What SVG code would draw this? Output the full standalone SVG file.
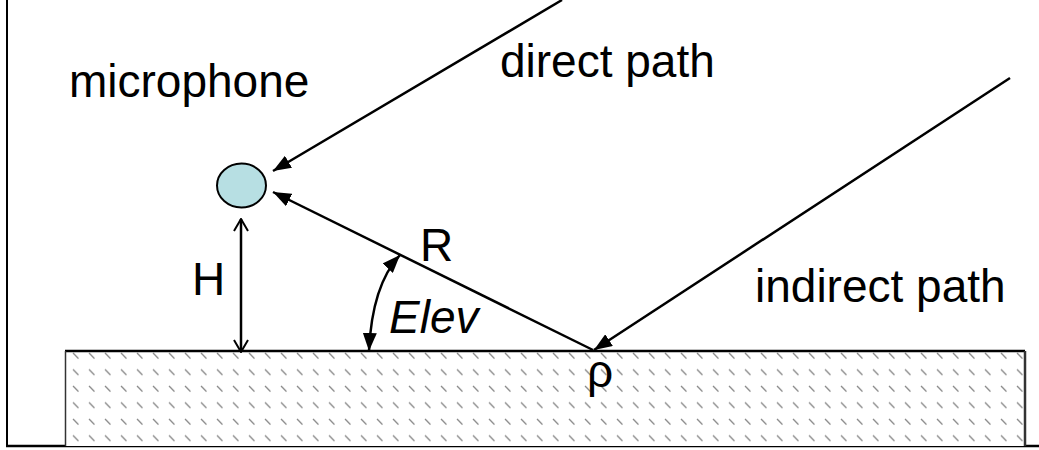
<svg xmlns="http://www.w3.org/2000/svg" width="1039" height="450" viewBox="0 0 1039 450">
<style>
.t{font-family:"Liberation Sans",Arial,sans-serif;font-size:46px;fill:#000}
.ln{stroke:#000;stroke-width:2.5;fill:none}
</style>
<defs>
<pattern id="hatch" patternUnits="userSpaceOnUse" x="65" y="351" width="16" height="16.5">
<line x1="8" y1="2" x2="13.5" y2="7.5" stroke="#888" stroke-width="1.3"/>
</pattern>
<marker id="fa" markerUnits="userSpaceOnUse" viewBox="0 0 18 14" refX="18" refY="7" markerWidth="18" markerHeight="14" orient="auto">
<path d="M0,0 L18,7 L0,14 Z" fill="#000"/>
</marker>
<marker id="fas" markerUnits="userSpaceOnUse" viewBox="0 0 18 14" refX="18" refY="7" markerWidth="18" markerHeight="14" orient="auto-start-reverse">
<path d="M0,0 L18,7 L0,14 Z" fill="#000"/>
</marker>
<marker id="oa" markerUnits="userSpaceOnUse" viewBox="0 0 14 16" refX="13" refY="8" markerWidth="14" markerHeight="16" orient="auto-start-reverse">
<path d="M1,1 L13,8 L1,15" fill="none" stroke="#000" stroke-width="2"/>
</marker>
</defs>
<g id="frame">
<line x1="7" y1="0" x2="7" y2="446" stroke="#000" stroke-width="2"/>
<line x1="6" y1="446" x2="1039" y2="446" stroke="#000" stroke-width="2.5"/>
</g>
<g id="ground">
<rect x="65" y="351" width="960" height="95" fill="#fff"/>
<rect x="65" y="351" width="960" height="95" fill="url(#hatch)"/>
<line x1="65" y1="351" x2="1025" y2="351" stroke="#000" stroke-width="2.5"/>
<line x1="65.5" y1="351" x2="65.5" y2="446" stroke="#333" stroke-width="1.5"/>
<line x1="1025" y1="351" x2="1025" y2="446" stroke="#333" stroke-width="2.5"/>
</g>
<g id="microphone">
<ellipse cx="241.5" cy="185.5" rx="24.5" ry="22" fill="#b7dfe3" stroke="#000" stroke-width="2"/>
</g>
<g id="connectors">
<line class="ln" x1="562" y1="0" x2="273" y2="171" marker-end="url(#fa)"/>
<line class="ln" x1="1010" y1="78" x2="594" y2="350" marker-end="url(#fa)"/>
<line class="ln" x1="593" y1="350" x2="273" y2="192" marker-end="url(#fa)"/>
<line class="ln" x1="241" y1="219" x2="241" y2="352" marker-start="url(#oa)" marker-end="url(#oa)"/>
<path class="ln" d="M369,351 Q372,285 400,255" marker-start="url(#fas)" marker-end="url(#fas)"/>
</g>
<g id="labels">
<text class="t" x="69" y="97">microphone</text>
<text class="t" x="500" y="77">direct path</text>
<text class="t" x="755" y="302">indirect path</text>
<text class="t" x="192" y="295">H</text>
<text class="t" x="420" y="261">R</text>
<text class="t" x="389" y="333" font-style="italic" font-size="41">Elev</text>
<text class="t" x="587" y="387" font-size="46">ρ</text>
</g>
</svg>
